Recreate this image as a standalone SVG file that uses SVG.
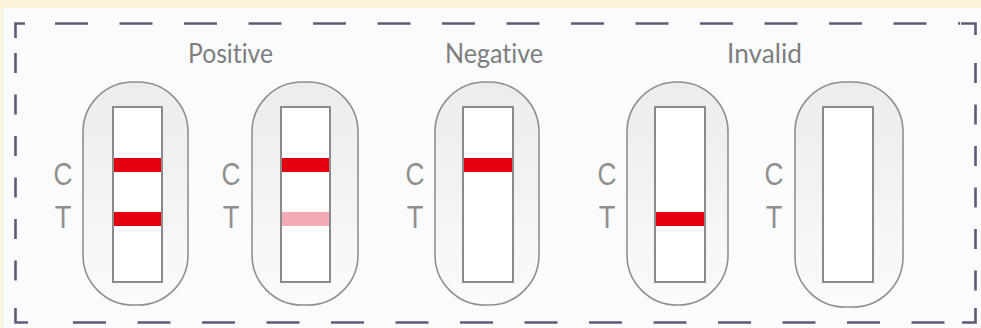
<svg xmlns="http://www.w3.org/2000/svg" width="981" height="328" viewBox="0 0 981 328">
  <defs>
    <linearGradient id="cassette" x1="0" y1="0" x2="0" y2="1">
      <stop offset="0" stop-color="#ececec"/>
      <stop offset="0.5" stop-color="#f3f3f3"/>
      <stop offset="1" stop-color="#fbfbfb"/>
    </linearGradient>
    <style>
      .frame { fill: none; stroke: #5d5c78; stroke-width: 2.6; }
      .outer { fill: url(#cassette); stroke: #8f8f8f; stroke-width: 1.6; }
      .window { fill: #ffffff; stroke: #8a8a8a; stroke-width: 2; }
      .band { fill: #e5000f; }
      .faint { fill: #f2aab3; }
      .title { font-family: Lato, "Open Sans", "Liberation Sans", sans-serif; font-size: 26px; fill: #7e7e7e; text-anchor: middle; font-variant-ligatures: none; }
      .mark { font-family: "Liberation Sans", Arial, sans-serif; font-size: 32px; fill: #8f8f8f; text-anchor: middle; }
    </style>
  </defs>

  <!-- page background -->
  <rect x="0" y="0" width="981" height="328" fill="#fafbfc"/>
  <rect x="0" y="0" width="981" height="8" fill="#fdf1d8"/>
  <rect x="0" y="8" width="4" height="320" fill="#fbf5e6"/>

  <!-- dashed frame -->
  <g id="frame">
    <path class="frame" d="M15.5 38 V23.5 H25"/>
    <line class="frame" x1="55" y1="23.5" x2="960" y2="23.5" stroke-dasharray="33 31.5"/>
    <path class="frame" d="M961 23.5 H975.5 V35"/>
    <line class="frame" x1="975.5" y1="63" x2="975.5" y2="300" stroke-dasharray="20 21.5"/>
    <path class="frame" d="M975.5 308 V322.5 H962"/>
    <line class="frame" x1="73" y1="322.5" x2="950" y2="322.5" stroke-dasharray="33 31.5"/>
    <path class="frame" d="M28 322.5 H15.5 V308"/>
    <line class="frame" x1="15.5" y1="53" x2="15.5" y2="300" stroke-dasharray="20 21.5"/>
  </g>

  <!-- result headings -->
  <g id="labels">
    <text class="title" x="230.5" y="63" textLength="85" lengthAdjust="spacingAndGlyphs">Positive</text>
    <text class="title" x="494" y="63" textLength="98" lengthAdjust="spacingAndGlyphs">Negative</text>
    <text class="title" x="764.5" y="63" textLength="75" lengthAdjust="spacingAndGlyphs">Invalid</text>
  </g>

  <!-- positive: strong test line -->
  <g id="strip-positive-strong">
    <rect class="outer" x="83" y="82" width="105" height="223" rx="50"/>
    <rect class="window" x="113" y="107" width="49" height="175"/>
    <rect class="band" x="114" y="158" width="47" height="14"/>
    <rect class="band" x="114" y="212" width="47" height="14"/>
    <text class="mark" transform="translate(63 185) scale(0.82 1)">C</text>
    <text class="mark" transform="translate(63 228) scale(0.85 1)">T</text>
  </g>

  <!-- positive: faint test line -->
  <g id="strip-positive-faint">
    <rect class="outer" x="252" y="82" width="106" height="223" rx="50"/>
    <rect class="window" x="281" y="107" width="49" height="175"/>
    <rect class="band" x="282" y="158" width="47" height="14"/>
    <rect class="faint" x="282" y="212" width="47" height="14"/>
    <text class="mark" transform="translate(231 185) scale(0.82 1)">C</text>
    <text class="mark" transform="translate(231 228) scale(0.85 1)">T</text>
  </g>

  <!-- negative -->
  <g id="strip-negative">
    <rect class="outer" x="435" y="82" width="104" height="223" rx="50"/>
    <rect class="window" x="463" y="107" width="50" height="175"/>
    <rect class="band" x="464" y="158" width="48" height="14"/>
    <text class="mark" transform="translate(415 185) scale(0.82 1)">C</text>
    <text class="mark" transform="translate(415 228) scale(0.85 1)">T</text>
  </g>

  <!-- invalid: test line only -->
  <g id="strip-invalid-t">
    <rect class="outer" x="627" y="82" width="101" height="223" rx="50"/>
    <rect class="window" x="655" y="107" width="50" height="175"/>
    <rect class="band" x="656" y="212" width="48" height="14"/>
    <text class="mark" transform="translate(607 185) scale(0.82 1)">C</text>
    <text class="mark" transform="translate(607 228) scale(0.85 1)">T</text>
  </g>

  <!-- invalid: no lines -->
  <g id="strip-invalid-blank">
    <rect class="outer" x="795" y="82" width="108" height="225" rx="50"/>
    <rect class="window" x="823" y="107" width="50" height="175"/>
    <text class="mark" transform="translate(774 185) scale(0.82 1)">C</text>
    <text class="mark" transform="translate(774 228) scale(0.85 1)">T</text>
  </g>
</svg>
